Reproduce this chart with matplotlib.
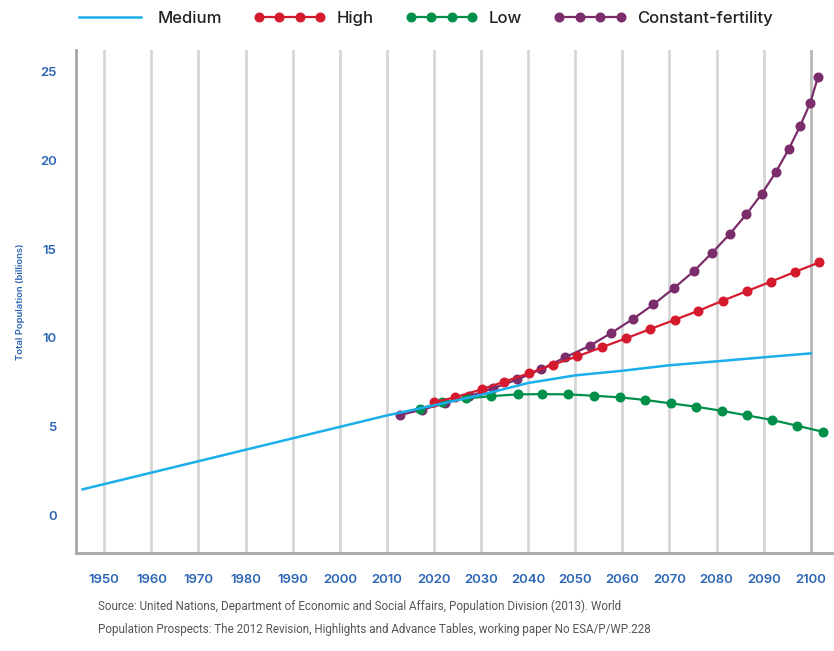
import matplotlib
matplotlib.use('Agg')
import matplotlib.pyplot as plt
from matplotlib.lines import Line2D

# values (billions)
medium_years = [1945.4, 2010, 2020, 2030, 2040, 2050, 2060, 2070, 2080, 2090, 2100]
medium_vals = [1.45, 5.62, 6.19, 6.78, 7.45, 7.88, 8.14, 8.45, 8.67, 8.90, 9.12]

high_years = [2020.0, 2024.4, 2030.1, 2034.9, 2040.1, 2045.3, 2050.4, 2055.6, 2060.7,
              2065.9, 2071.2, 2076.1, 2081.3, 2086.4, 2091.5, 2096.6, 2101.8]
high_vals = [6.36, 6.64, 7.09, 7.52, 7.99, 8.48, 8.95, 9.46, 9.96,
             10.49, 11.02, 11.52, 12.09, 12.63, 13.16, 13.71, 14.25]

low_years = [2017.0, 2021.6, 2026.9, 2032.2, 2037.8, 2043.0, 2048.5, 2054.0, 2059.5,
             2064.9, 2070.3, 2075.7, 2081.1, 2086.5, 2091.8, 2097.1, 2102.5]
low_vals = [6.00, 6.36, 6.58, 6.71, 6.81, 6.82, 6.81, 6.73, 6.64,
            6.49, 6.30, 6.11, 5.88, 5.62, 5.36, 5.04, 4.70]

const_years = [2012.7, 2017.5, 2022.3, 2027.4, 2032.6, 2037.7, 2042.8, 2047.8, 2053.1,
               2057.5, 2062.2, 2066.6, 2070.9, 2075.1, 2079.0, 2082.8, 2086.3, 2089.6,
               2092.6, 2095.3, 2097.7, 2099.9, 2101.5]
const_vals = [5.64, 5.95, 6.30, 6.70, 7.15, 7.65, 8.23, 8.89, 9.55,
              10.25, 11.05, 11.88, 12.79, 13.74, 14.78, 15.85, 16.96, 18.12,
              19.35, 20.63, 21.92, 23.26, 24.69]

decades = list(range(1950, 2101, 10))
y_ticks = [0, 5, 10, 15, 20, 25]

source_text = ('Source: United Nations, Department of Economic and Social Affairs, Population Division (2013). World\n'
               'Population Prospects: The 2012 Revision, Highlights and Advance Tables, working paper No ESA/P/WP.228')

c_medium = '#1aaeea'
c_high = '#d51a2e'
c_low = '#00904a'
c_const = '#7b2c6a'
c_tick = '#2b65b3'

plt.rcParams['font.family'] = ['Inter', 'DejaVu Sans']

fig = plt.figure(figsize=(8.34, 6.51), dpi=100)
ax = fig.add_axes([0.0911, 0.1505, 0.9065, 0.7727])

for yr in decades:
    col = '#b8b8b8' if yr == 2100 else '#d6d6d6'
    ax.axvline(yr, color=col, lw=2.0, zorder=0)

ms = 6.2
ax.plot(const_years, const_vals, color=c_const, lw=1.6, marker='o', ms=ms, zorder=2)
ax.plot(low_years, low_vals, color=c_low, lw=1.6, marker='o', ms=ms, zorder=3)
ax.plot(high_years, high_vals, color=c_high, lw=1.6, marker='o', ms=ms, zorder=4)
ax.plot(medium_years, medium_vals, color=c_medium, lw=1.8, zorder=5)

ax.set_xlim(1944.0, 2104.5)
ax.set_ylim(-2.14, 26.23)
ax.set_xticks(decades)
ax.set_yticks(y_ticks)
ax.tick_params(axis='both', length=0, labelcolor=c_tick, labelsize=9.5)
ax.tick_params(axis='x', pad=15)
ax.tick_params(axis='y', pad=14)
for lab in ax.get_xticklabels() + ax.get_yticklabels():
    lab.set_fontweight('semibold')

for side in ['top', 'right']:
    ax.spines[side].set_visible(False)
for side in ['left', 'bottom']:
    ax.spines[side].set_color('#a6a6a6')
    ax.spines[side].set_linewidth(2.0)

ax.set_ylabel('Total Population (billions)', color=c_tick, fontsize=6.8,
              fontweight='semibold', labelpad=11)

handles = [
    Line2D([], [], color=c_medium, lw=1.8),
    Line2D([], [], color=c_high, lw=1.6, marker='o', ms=ms),
    Line2D([], [], color=c_low, lw=1.6, marker='o', ms=ms),
    Line2D([], [], color=c_const, lw=1.6, marker='o', ms=ms),
]
labels = ['Medium', 'High', 'Low', 'Constant-fertility']
leg = fig.legend(handles, labels, loc='center', bbox_to_anchor=(0.508, 0.972), ncol=4,
                 frameon=False, numpoints=4, handlelength=4.3, handletextpad=0.7,
                 columnspacing=1.9, prop={'size': 12, 'weight': 'medium'})
for t in leg.get_texts():
    t.set_color('#222222')

fig.text(98 / 834, 1 - 618 / 651, source_text, ha='left', va='center',
         fontsize=8.4, color='#555555', family=['Roboto', 'DejaVu Sans'],
         linespacing=2.0)

fig.savefig('out.png', dpi=100)
